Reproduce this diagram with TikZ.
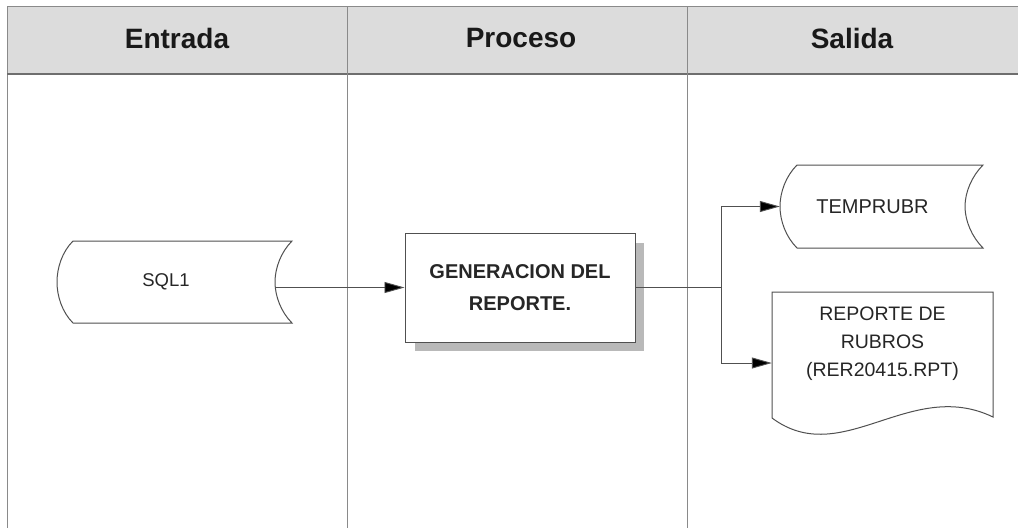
\documentclass[tikz,border=0pt]{standalone}
\usepackage{fontspec}
\setmainfont{Liberation Sans}
\usetikzlibrary{arrows.meta}
\definecolor{gridc}{HTML}{8A8A8A}
\definecolor{shapec}{HTML}{505050}
\definecolor{headc}{HTML}{DCDCDC}
\begin{document}
\begin{tikzpicture}[x=1pt,y=-1pt,
  gridline/.style={draw=gridc,line width=0.9pt},
  outline/.style={draw=shapec,line width=1pt,fill=white},
  headtext/.style={font=\fontsize{28}{30}\selectfont\bfseries,text=black!90},
  bodytext/.style={font=\fontsize{19.5}{28}\selectfont,text=black!85,align=center,inner sep=0pt},
  arr/.style={draw=shapec,line width=0.9pt,-{Triangle[length=20pt,width=11pt,fill=black]}},
  conn/.style={draw=shapec,line width=0.9pt}]
\useasboundingbox (0,0) rectangle (1018,528);
% header band
\fill[headc] (7,6) rectangle (1018,74);
\draw[gridline] (1018,6) -- (7,6) -- (7,528);
\draw[draw=gridc!80!black,line width=1.8pt] (7,74) -- (1018,74);
\draw[gridline] (347,6) -- (347,528);
\draw[gridline] (687,6) -- (687,528);
\node[headtext] (h1) at (177,38) {Entrada};
\node[headtext] (h2) at (521,38) {Proceso};
\node[headtext] (h3) at (852,38) {Salida};
% SQL1 stored data
\draw[outline] (73,241) -- (292,241) .. controls (281,252) and (275,268) .. (275,282)
  .. controls (275,296) and (281,312) .. (292,323) -- (73,323)
  .. controls (62,312) and (57,296) .. (57,282) .. controls (57,268) and (62,252) .. (73,241) -- cycle;
\node[bodytext,font=\fontsize{18.5}{22}\selectfont,minimum width=218pt,minimum height=82pt] (sql) at (166,282) {SQL1};
% process box
\fill[gray!55] (415,243) rectangle (644,351);
\node[draw=shapec,line width=1pt,fill=white,minimum width=230pt,minimum height=109pt,
  font=\fontsize{20}{32}\selectfont\bfseries,align=center,text=black!85] (proc) at (520,287.5)
  {GENERACION DEL\\REPORTE.};
% TEMPRUBR stored data
\draw[outline] (797,165) -- (983,165) .. controls (972,176) and (965,192) .. (965,206.5)
  .. controls (965,221) and (972,237) .. (983,248) -- (797,248)
  .. controls (786,237) and (780,221) .. (780,206.5) .. controls (780,192) and (786,176) .. (797,165) -- cycle;
\node[bodytext,font=\fontsize{20}{24}\selectfont,minimum width=185pt,minimum height=83pt] (temp) at (872.5,206.5) {TEMPRUBR};
% report document
\draw[outline] (772,292) -- (993,292) -- (993,417)
  .. controls (910,377) and (842,470) .. (772,418) -- cycle;
\node[bodytext,minimum width=221pt,minimum height=104pt] (rep) at (882.5,344)
  {REPORTE DE\\RUBROS\\(RER20415.RPT)};
% connectors
\draw[arr] (sql.east |- proc.west) -- (proc.west);
\draw[conn] (proc.east) -- (721,287.5) coordinate (br);
\draw[arr] (br) |- (temp.west);
\draw[arr] (br) |- ([yshift=-19pt]rep.west);
\end{tikzpicture}
\end{document}
